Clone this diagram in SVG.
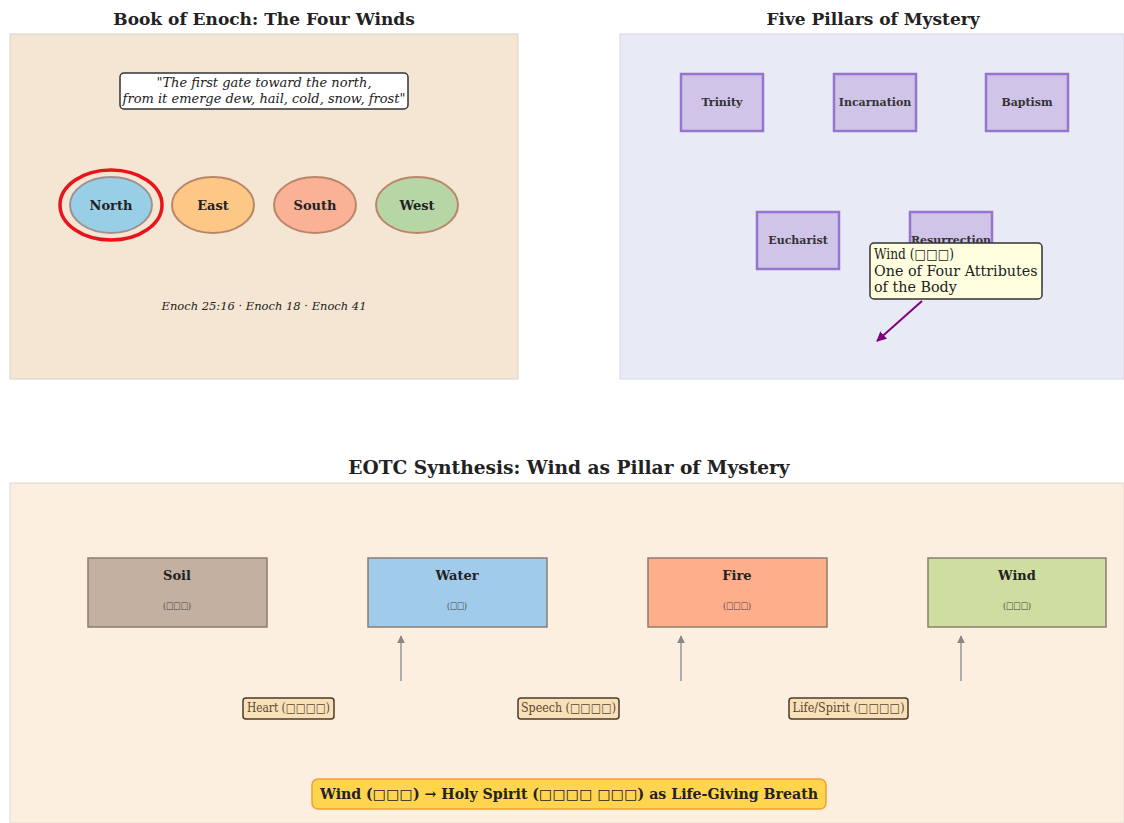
<svg xmlns="http://www.w3.org/2000/svg" width="1124" height="823" viewBox="0 0 1124 823">
<defs>
<style>
text{font-family:"DejaVu Serif","Liberation Serif",serif;fill:#222}
.title{font-weight:bold;font-size:17px;text-anchor:middle}
.big{font-size:18.6px}
.dir{font-weight:bold;font-size:13px;text-anchor:middle}
.pil rect{fill:#d1c4e9;stroke:#9575cd;stroke-width:2.5}
.pil text{font-weight:bold;font-size:11px;text-anchor:middle;fill:#333}
.el rect{stroke:#8a7d70;stroke-width:1.5}
.el .n{font-weight:bold;font-size:13px;text-anchor:middle}
.el .s{font-size:10px;text-anchor:middle;fill:#444}
.att rect{fill:#f8e0b8;stroke:#4a3a2a;stroke-width:1.5}
.att text{font-size:12px;text-anchor:middle;fill:#5a4632}
</style>
<marker id="ah" viewBox="0 0 10 10" refX="9" refY="5" markerWidth="6" markerHeight="6" orient="auto-start-reverse"><path d="M0,0 L10,5 L0,10 z" fill="#888"/></marker>
<marker id="ahp" viewBox="0 0 10 10" refX="9" refY="5" markerWidth="5" markerHeight="5" orient="auto-start-reverse"><path d="M0,0 L10,5 L0,10 z" fill="#800080"/></marker>
</defs>
<rect width="1124" height="823" fill="#fff"/>

<g id="panel-enoch">
<text class="title" x="264" y="25">Book of Enoch: The Four Winds</text>
<rect x="10" y="34" width="508" height="345" fill="#f5e6d3" stroke="#d8d0c8"/>
<g id="quote">
<rect x="120" y="73" width="288" height="36" rx="4" fill="#fff" stroke="#333" stroke-width="1.5"/>
<text x="264" y="87" font-size="13" font-style="italic" text-anchor="middle" fill="#444">"The first gate toward the north,</text>
<text x="264" y="103" font-size="13" font-style="italic" text-anchor="middle" fill="#444">from it emerge dew, hail, cold, snow, frost"</text>
</g>
<g id="north">
<ellipse cx="111" cy="205" rx="41" ry="28" fill="#98cfe6" stroke="#a09090" stroke-width="2"/>
<ellipse cx="111" cy="205" rx="51" ry="35" fill="none" stroke="#e8141a" stroke-width="3.5"/>
<text class="dir" x="111" y="210">North</text>
</g>
<g id="east">
<ellipse cx="213" cy="205" rx="41" ry="28" fill="#fdc886" stroke="#b9866a" stroke-width="2"/>
<text class="dir" x="213" y="210">East</text>
</g>
<g id="south">
<ellipse cx="315" cy="205" rx="41" ry="28" fill="#fbb196" stroke="#b9866a" stroke-width="2"/>
<text class="dir" x="315" y="210">South</text>
</g>
<g id="west">
<ellipse cx="417" cy="205" rx="41" ry="28" fill="#b6d6a6" stroke="#b9866a" stroke-width="2"/>
<text class="dir" x="417" y="210">West</text>
</g>
<text x="264" y="310" font-size="11.5" font-style="italic" text-anchor="middle" fill="#444">Enoch 25:16 · Enoch 18 · Enoch 41</text>
</g>

<g id="panel-pillars">
<text class="title" x="873" y="25">Five Pillars of Mystery</text>
<rect x="620" y="34" width="504" height="345" fill="#e8eaf6" stroke="#d8d8e0"/>
<g id="trinity" class="pil"><rect x="681" y="74" width="82" height="57"/><text x="722" y="106">Trinity</text></g>
<g id="incarnation" class="pil"><rect x="834" y="74" width="82" height="57"/><text x="875" y="106">Incarnation</text></g>
<g id="baptism" class="pil"><rect x="986" y="74" width="82" height="57"/><text x="1027" y="106">Baptism</text></g>
<g id="eucharist" class="pil"><rect x="757" y="212" width="82" height="57"/><text x="798" y="244">Eucharist</text></g>
<g id="resurrection" class="pil"><rect x="910" y="212" width="82" height="57"/><text x="951" y="244">Resurrection</text></g>
<g id="wind-note">
<rect x="870" y="243" width="172" height="56" rx="4" fill="#ffffe0" stroke="#333" stroke-width="1.5"/>
<text x="874" y="259" font-size="14.3" fill="#333" textLength="80" lengthAdjust="spacingAndGlyphs">Wind (□□□)</text>
<text x="874" y="276" font-size="14.3" fill="#333">One of Four Attributes</text>
<text x="874" y="292" font-size="14.3" fill="#333">of the Body</text>
</g>
</g>

<g id="panel-synthesis">
<text class="title big" x="569" y="474">EOTC Synthesis: Wind as Pillar of Mystery</text>
<rect x="10" y="483" width="1114" height="340" fill="#fdefdf" stroke="#e0d8d0"/>
<g id="soil" class="el"><rect x="88" y="558" width="179" height="69" fill="#c4b0a0"/><text class="n" x="177" y="580">Soil</text><text class="s" x="177" y="609" textLength="28" lengthAdjust="spacingAndGlyphs">(□□□)</text></g>
<g id="water" class="el"><rect x="368" y="558" width="179" height="69" fill="#a0cbea"/><text class="n" x="457" y="580">Water</text><text class="s" x="457" y="609" textLength="20" lengthAdjust="spacingAndGlyphs">(□□)</text></g>
<g id="fire" class="el"><rect x="648" y="558" width="179" height="69" fill="#ffae8c"/><text class="n" x="737" y="580">Fire</text><text class="s" x="737" y="609" textLength="28" lengthAdjust="spacingAndGlyphs">(□□□)</text></g>
<g id="wind" class="el"><rect x="928" y="558" width="178" height="69" fill="#cddea0"/><text class="n" x="1017" y="580">Wind</text><text class="s" x="1017" y="609" textLength="28" lengthAdjust="spacingAndGlyphs">(□□□)</text></g>
<g id="heart" class="att"><rect x="243" y="698" width="91" height="21" rx="3"/><text x="288.5" y="712" textLength="83" lengthAdjust="spacingAndGlyphs">Heart (□□□□)</text></g>
<g id="speech" class="att"><rect x="518" y="698" width="101" height="21" rx="3"/><text x="568.5" y="712" textLength="95" lengthAdjust="spacingAndGlyphs">Speech (□□□□)</text></g>
<g id="life" class="att"><rect x="789" y="698" width="119" height="21" rx="3"/><text x="848.5" y="712" textLength="112" lengthAdjust="spacingAndGlyphs">Life/Spirit (□□□□)</text></g>
<g id="summary">
<rect x="312" y="779" width="514" height="30" rx="6" fill="#ffd54f" stroke="#f0a030" stroke-width="1.5"/>
<text x="569" y="799" font-size="14.5" font-weight="bold" text-anchor="middle" textLength="498" lengthAdjust="spacingAndGlyphs">Wind (□□□) → Holy Spirit (□□□□ □□□) as Life-Giving Breath</text>
</g>
</g>

<g id="connectors">
<line x1="922" y1="301" x2="877" y2="341" stroke="#800080" stroke-width="2" marker-end="url(#ahp)"/>
<line x1="401" y1="681" x2="401" y2="636" stroke="#888" stroke-width="1.3" marker-end="url(#ah)"/>
<line x1="681" y1="681" x2="681" y2="636" stroke="#888" stroke-width="1.3" marker-end="url(#ah)"/>
<line x1="961" y1="681" x2="961" y2="636" stroke="#888" stroke-width="1.3" marker-end="url(#ah)"/>
</g>
</svg>
